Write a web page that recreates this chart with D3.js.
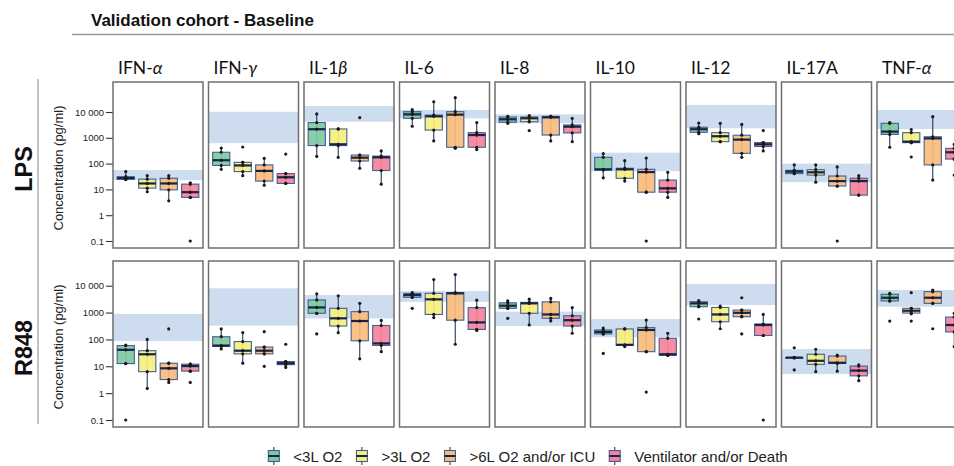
<!DOCTYPE html>
<html>
<head>
<meta charset="utf-8">
<script src="https://cdn.jsdelivr.net/npm/d3@7"></script>
<style>
  body { margin: 0; background: #fff; }
  svg { display: block; font-family: "Liberation Sans", Arial, sans-serif; }
</style>
</head>
<body>
<svg id="chart" width="954" height="466"></svg>
<script>
// DATA
var cytokines = ['IFN-α', 'IFN-γ', 'IL-1β', 'IL-6', 'IL-8', 'IL-10', 'IL-12', 'IL-17A', 'TNF-α'];
var groups = ['<3L O2', '>3L O2', '>6L O2 and/or ICU', 'Ventilator and/or Death'];
var stimuli = ['LPS', 'R848'];
var y_ticks = [0.1, 1, 10, 100, 1000, 10000];
var y_tick_labels = ['0.1', '1', '10', '100', '1000', '10 000'];

// reference range (blue band) per cytokine, [low, high] pg/ml
var lps_ranges = [[23, 56], [620, 10200], [4200, 17000], [5700, 12000], [3650, 8100], [51, 265], [2340, 18600], [19, 100], [2200, 12000]];
var r848_ranges = [[87, 890], [325, 8000], [600, 4500], [2500, 6300], [315, 1080], [120, 575], [1900, 11500], [5.1, 44], [1650, 6900]];

// boxes: [min, q1, median, q3, max] per cytokine, per group
var lps_boxes = [
    [[24, 24.6, 27.5, 31, 49], [8.1, 11.2, 17, 25, 34], [3.6, 9.6, 17, 27, 34], [4.9, 4.9, 7.8, 16, 18]],
    [[60, 85, 135, 275, 400], [34, 49, 85, 112, 112], [14.5, 21, 52, 89, 160], [17, 17, 29.5, 41, 41]],
    [[190, 500, 2150, 3900, 8400], [175, 500, 560, 2200, 2200], [66, 126, 170, 215, 215], [16, 54, 175, 195, 310]],
    [[2800, 5700, 8100, 10300, 12300], [760, 2000, 6800, 7600, 25000], [390, 430, 7900, 10300, 36000], [350, 430, 1280, 1580, 3900]],
    [[3650, 4000, 5200, 6400, 6800], [4200, 4200, 5700, 6400, 7200], [760, 1280, 6200, 6800, 6800], [710, 1550, 2700, 3150, 5700]],
    [[28, 56, 60, 175, 245], [21, 27, 60, 66, 130], [7.8, 7.8, 47, 60, 165], [4.9, 7.8, 11, 23, 46]],
    [[1450, 1630, 2150, 2560, 3750], [710, 710, 1150, 1580, 3650], [175, 250, 850, 1260, 3300], [310, 460, 560, 650, 650]],
    [[41, 41, 49, 55, 89], [19, 36, 46, 58, 89], [13.5, 13.5, 21, 33, 74], [6, 6, 21, 27, 34]],
    [[430, 1350, 1740, 3650, 3900], [650, 650, 710, 1580, 2100], [23, 89, 950, 1100, 6600], [150, 150, 275, 390, 560]]
];
var lps_outliers = [
    [[], [], [], [0.1]],
    [[], [440], [], [235]],
    [[], [], [6000], []],
    [[], [], [], []],
    [[], [1900], [], []],
    [[], [], [0.1], []],
    [[], [], [], [1900]],
    [[], [], [0.1], []],
    [[], [180], [], [36]]
];

var r848_boxes = [
    [[12.6, 12.6, 41, 59, 62], [1.5, 6.3, 28, 38, 100], [2.5, 3.2, 8.4, 13, 13], [6.6, 6.6, 10.2, 12, 12]],
    [[44, 55, 59, 126, 245], [13, 29, 38, 83, 180], [29, 29, 38, 52, 52], [9.1, 11.5, 13, 15, 15]],
    [[940, 940, 1550, 2950, 5000], [178, 315, 610, 1440, 4200], [19, 89, 485, 1080, 2200], [35, 60, 71, 330, 510]],
    [[3700, 3700, 4500, 5200, 5500], [650, 850, 3100, 5200, 17000], [66, 520, 5200, 5500, 26000], [215, 235, 430, 1520, 2900]],
    [[1440, 1440, 1800, 2300, 2700], [345, 940, 2200, 2400, 3150], [485, 610, 850, 2500, 3350], [170, 315, 520, 760, 1520]],
    [[160, 160, 190, 225, 265], [54, 60, 63, 245, 245], [35, 35, 225, 275, 525], [25.5, 25.5, 28, 110, 170]],
    [[1650, 1650, 2200, 2530, 2760], [250, 455, 850, 1550, 1740], [700, 700, 980, 1240, 1240], [140, 140, 345, 375, 850]],
    [[21, 21, 21, 21, 21], [6.3, 11.8, 16, 28, 43], [6.6, 12.8, 13.5, 24, 26], [2.9, 4.4, 6.9, 10.2, 11.2]],
    [[2700, 2700, 3560, 4800, 5200], [900, 960, 1170, 1440, 1440], [2200, 2200, 3560, 6000, 6900], [54, 190, 345, 680, 940]]
];
var r848_outliers = [
    [[0.1], [], [245], [2.5]],
    [[], [], [195, 10], [66]],
    [[160], [], [], []],
    [[1440], [], [], []],
    [[610], [], [], []],
    [[30], [], [1.1], []],
    [[575], [], [3560, 160], [0.1]],
    [[49, 7.3], [], [], []],
    [[480], [5500, 480], [250], []]
];

// STYLE
var colors = ['#7fc9a2', '#f6ef7c', '#f8bc7c', '#f6829b'];

// CHART
var chrt = {
    config: {
        rows: [
            { top: 82, bottom: 248, y_lo: 241, y_hi: 112 },
            { top: 261, bottom: 427, y_lo: 420, y_hi: 285.7 }
        ]
    },
    title: function(svg) {
        svg.append('text')
            .attr('x', 91).attr('y', 26)
            .attr('font-size', 17).attr('font-weight', 'bold')
            .attr('fill', '#111')
            .text('Validation cohort - Baseline');
        svg.append('line')
            .attr('x1', 72).attr('x2', 954).attr('y1', 34.5).attr('y2', 34.5)
            .attr('stroke', '#9a9a9a').attr('stroke-width', 1.5);
        svg.append('line')
            .attr('x1', 38).attr('x2', 38).attr('y1', 79).attr('y2', 424)
            .attr('stroke', '#9a9a9a').attr('stroke-width', 1.2);
    },
    build_row: function(svg, r, ranges, boxes, outliers) {
        var row = this.config.rows[r];
        var x0 = d3.scaleBand().domain(cytokines).range([113, 967]).paddingInner(0.0576).paddingOuter(0);
        var x1 = d3.scaleBand().domain(groups).range([2, 88]).paddingInner(0.2).paddingOuter(0.1);
        var y = d3.scaleLog().domain([0.1, 10000]).range([row.y_lo, row.y_hi]);
        var w = x0.bandwidth();

        // row label + axis title
        var cy = (row.top + row.bottom) / 2;
        svg.append('text')
            .attr('transform', 'translate(32,' + (cy + 4) + ') rotate(-90)')
            .attr('text-anchor', 'middle')
            .attr('font-size', 23.5).attr('font-weight', 'bold').attr('fill', '#111')
            .text(stimuli[r]);
        svg.append('text')
            .attr('transform', 'translate(63,' + (cy + 3) + ') rotate(-90)')
            .attr('text-anchor', 'middle')
            .attr('font-size', 13).attr('fill', '#222')
            .text('Concentration (pg/ml)');

        // y axis on first panel
        var ax = svg.append('g')
            .attr('transform', 'translate(' + x0(cytokines[0]) + ',0)')
            .call(d3.axisLeft(y).tickValues(y_ticks).tickSize(7).tickPadding(2)
                .tickFormat(function(d, i) { return y_tick_labels[i]; }));
        ax.select('.domain').remove();
        ax.selectAll('.tick line').attr('stroke', '#333').attr('stroke-width', 1.1);
        ax.selectAll('.tick text').attr('font-size', 9.5).attr('fill', '#222')
            .attr('font-family', '"Liberation Sans", Arial, sans-serif');

        var panels = svg.append('g').selectAll('g.panel')
            .data(cytokines)
            .enter().append('g')
            .attr('class', 'panel')
            .attr('transform', function(d) { return 'translate(' + x0(d) + ',0)'; });

        // reference band
        panels.append('rect')
            .attr('x', 0).attr('width', w)
            .attr('y', function(d, i) { return y(ranges[i][1]); })
            .attr('height', function(d, i) { return y(ranges[i][0]) - y(ranges[i][1]); })
            .attr('fill', '#cddcee');

        panels.each(function(c, ci) {
            var g = d3.select(this);
            groups.forEach(function(grp, gi) {
                var b = boxes[ci][gi];
                var cx = x1(grp) + x1.bandwidth() / 2;
                var bw = x1.bandwidth();
                var wk = g.append('g');
                wk.append('line')
                    .attr('x1', cx).attr('x2', cx)
                    .attr('y1', y(b[0])).attr('y2', y(b[4]))
                    .attr('stroke', '#24365f').attr('stroke-width', 1.1);
                wk.append('rect')
                    .attr('x', cx - bw / 2).attr('width', bw)
                    .attr('y', y(b[3])).attr('height', Math.max(0.5, y(b[1]) - y(b[3])))
                    .attr('fill', colors[gi]).attr('fill-opacity', 0.92)
                    .attr('stroke', '#44608f').attr('stroke-width', 1.1);
                wk.append('line')
                    .attr('x1', cx - bw / 2).attr('x2', cx + bw / 2)
                    .attr('y1', y(b[2])).attr('y2', y(b[2]))
                    .attr('stroke', '#14244d').attr('stroke-width', 2.2);
                var pts = [b[0], b[1], b[2], b[3], b[4]].concat(outliers[ci][gi]);
                wk.selectAll('circle')
                    .data(pts)
                    .enter().append('circle')
                    .attr('cx', cx)
                    .attr('cy', function(d) { return y(d); })
                    .attr('r', 1.6)
                    .attr('fill', '#1a1a1a');
            });
        });

        // panel frame
        panels.append('rect')
            .attr('x', 0).attr('width', w)
            .attr('y', row.top).attr('height', row.bottom - row.top)
            .attr('fill', 'none')
            .attr('stroke', '#6f6f6f').attr('stroke-width', 1.5);

        // panel titles on the first row
        if ( r == 0 ) {
            panels.append('text')
                .attr('x', 5).attr('y', 74)
                .attr('font-size', 17.5).attr('fill', '#111')
                .attr('font-family', 'Lato, "Liberation Sans", sans-serif')
                .each(function(d) {
                    var t = d3.select(this);
                    var m = d.match(/^(.*?)([α-ω])$/);
                    if ( m ) {
                        t.append('tspan').text(m[1]);
                        t.append('tspan').attr('font-style', 'italic').text(m[2]);
                    }
                    else t.text(d);
                });
        }
    },
    legend: function(svg) {
        var lg = svg.append('g');
        var x = 0;
        groups.forEach(function(grp, gi) {
            var it = lg.append('g').attr('transform', 'translate(' + x + ',0)');
            it.append('line')
                .attr('x1', 5.5).attr('x2', 5.5).attr('y1', -9).attr('y2', 9)
                .attr('stroke', '#24365f').attr('stroke-width', 1.1);
            it.append('rect')
                .attr('x', 0).attr('y', -5.5).attr('width', 11).attr('height', 11)
                .attr('fill', colors[gi]).attr('stroke', '#44608f').attr('stroke-width', 1.1);
            it.append('line')
                .attr('x1', 0).attr('x2', 11).attr('y1', 0).attr('y2', 0)
                .attr('stroke', '#14244d').attr('stroke-width', 2);
            var t = it.append('text')
                .attr('x', 25).attr('y', 5.5)
                .attr('font-size', 15).attr('fill', '#222')
                .text(grp);
            x += 25 + t.node().getComputedTextLength() + 14;
        });
        var total = x - 14;
        lg.attr('transform', 'translate(' + (528 - total / 2) + ',456)');
    },
    build_chart: function() {
        var svg = d3.select('svg#chart');
        this.title(svg);
        this.build_row(svg, 0, lps_ranges, lps_boxes, lps_outliers);
        this.build_row(svg, 1, r848_ranges, r848_boxes, r848_outliers);
        this.legend(svg);
    }
};

chrt.build_chart();
</script>
</body>
</html>
